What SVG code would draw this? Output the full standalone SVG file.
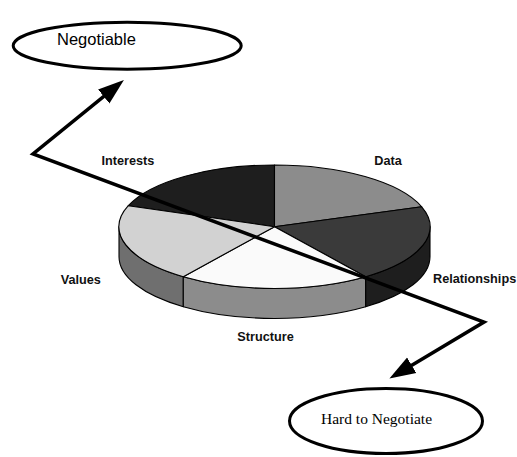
<svg xmlns="http://www.w3.org/2000/svg" width="517" height="457" viewBox="0 0 517 457">
<style>
.lbl{font-family:"Liberation Sans",Arial,sans-serif;font-weight:bold;font-size:12.7px;fill:#111}
.slice{stroke:#000;stroke-width:1.1;stroke-linejoin:round}
.oval{fill:#fff;stroke:#000;stroke-width:3}
.arrow{fill:none;stroke:#000;stroke-width:3.5;stroke-linejoin:miter}
</style>
<defs>
<marker id="ah" markerUnits="userSpaceOnUse" markerWidth="28" markerHeight="20" refX="14" refY="9" orient="auto-start-reverse" viewBox="0 0 28 18">
<path d="M0,0 L26,9 L0,18 Z" fill="#000"/>
</marker>
</defs>
<rect width="517" height="457" fill="#fff"/>
<g id="pie">
<g id="side-values"><path class="slice" fill="#6f6f6f" d="M119,226.7 L119,256.7 A155.5,61.7 0 0 0 183.3,306.7 L183.3,276.7 A155.5,61.7 0 0 1 119,226.7 Z"/></g>
<g id="side-structure"><path class="slice" fill="#8c8c8c" d="M183.3,276.7 L183.3,306.7 A155.5,61.7 0 0 0 365.7,306.7 L365.7,276.7 A155.5,61.7 0 0 1 183.3,276.7 Z"/></g>
<g id="side-relationships"><path class="slice" fill="#1e1e1e" d="M365.7,276.7 L365.7,306.7 A155.5,61.7 0 0 0 430,256.7 L430,226.7 A155.5,61.7 0 0 1 365.7,276.7 Z"/></g>
<g id="interests"><path class="slice" fill="#1e1e1e" d="M274.5,226.7 L128.3,205.7 A155.5,61.7 0 0 1 274.5,165 Z"/><text class="lbl" x="101.5" y="165">Interests</text></g>
<g id="data"><path class="slice" fill="#8c8c8c" d="M274.5,226.7 L274.5,165 A155.5,61.7 0 0 1 421.7,206.8 Z"/><text class="lbl" x="374.3" y="165">Data</text></g>
<g id="relationships"><path class="slice" fill="#3a3a3a" d="M274.5,226.7 L421.7,206.8 A155.5,61.7 0 0 1 365.7,276.7 Z"/><text class="lbl" x="433" y="283">Relationships</text></g>
<g id="structure"><path class="slice" fill="#fafafa" d="M274.5,226.7 L365.7,276.7 A155.5,61.7 0 0 1 183.3,276.7 Z"/><text class="lbl" x="237.3" y="341">Structure</text></g>
<g id="values"><path class="slice" fill="#d2d2d2" d="M274.5,226.7 L183.3,276.7 A155.5,61.7 0 0 1 128.3,205.7 Z"/><text class="lbl" x="60.7" y="284">Values</text></g>
</g>
<g id="negotiable">
<ellipse class="oval" cx="127.2" cy="45.7" rx="114" ry="23.5"/>
<text x="57" y="45" font-family="'Liberation Sans',Arial,sans-serif" font-size="16.5" fill="#000">Negotiable</text>
</g>
<g id="hard">
<ellipse class="oval" cx="386" cy="421" rx="96.5" ry="32.5"/>
<text x="321" y="424" font-family="'Liberation Serif','Times New Roman',serif" font-size="15.5" fill="#000">Hard to Negotiate</text>
</g>
<g id="connectors">
<path class="arrow" d="M114.6,87.6 L33,154 L484,322 L399.7,372.4" marker-start="url(#ah)" marker-end="url(#ah)"/>
</g>
</svg>
